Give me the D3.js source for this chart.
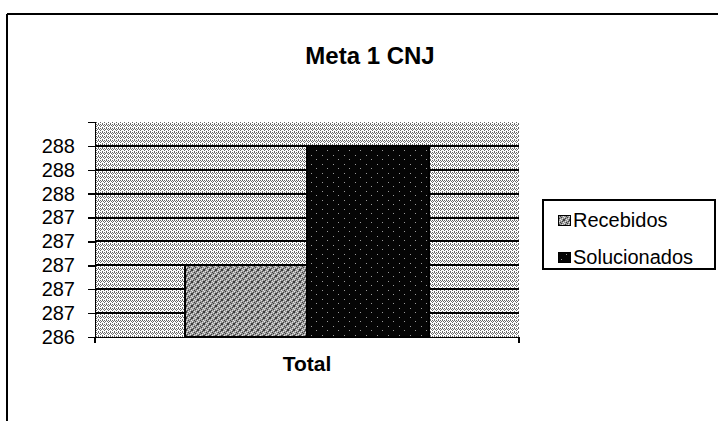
<!DOCTYPE html>
<html>
<head>
<meta charset="utf-8">
<script src="https://cdn.jsdelivr.net/npm/d3@7"></script>
<style>
  body { margin: 0; background: #fff; }
  text { font-family: "Liberation Sans", Arial, sans-serif; fill: #000; }
</style>
</head>
<body>
<div id="chart"></div>
<script>
// chart data
var categories = ["Total"];
var seriesNames = ["Recebidos", "Solucionados"];
var recebidos = [287];
var solucionados = [288];
var tickValues = [286.4, 286.6, 286.8, 287, 287.2, 287.4, 287.6, 287.8, 288];

var svgWidth = 718, svgHeight = 421;
var plot = { left: 95, right: 519, top: 122, bottom: 337 };

var svg = d3.select("#chart").append("svg")
    .attr("width", svgWidth)
    .attr("height", svgHeight)
    .attr("shape-rendering", "crispEdges");

var defs = svg.append("defs");

// dithered fills, rough imitation of the old print patterns
// dots: [x, y, colour]
function makePattern(id, w, h, base, dots) {
    var p = defs.append("pattern")
        .attr("id", id)
        .attr("patternUnits", "userSpaceOnUse")
        .attr("width", w)
        .attr("height", h);
    p.append("rect").attr("width", w).attr("height", h).attr("fill", base);
    dots.forEach(function(d) {
        p.append("rect").attr("x", d[0]).attr("y", d[1])
            .attr("width", 1).attr("height", 1).attr("fill", d[2]);
    });
}
var g1 = "#6a6a6a";
makePattern("bgFill", 4, 4, "#ffffff",
    [[0, 0, g1], [2, 0, g1], [1, 1, g1], [3, 1, g1], [0, 2, g1], [2, 3, g1]]);
var dk = "#3c3c3c", lt = "#e4e4e4";
makePattern("recFill", 6, 6, "#9a9a9a",
    [[0, 0, dk], [3, 0, lt], [5, 0, dk], [1, 1, lt], [4, 1, dk],
     [2, 2, dk], [5, 2, lt], [0, 3, lt], [3, 3, dk], [1, 4, dk],
     [4, 4, lt], [2, 5, lt], [5, 5, dk], [0, 5, dk]]);
var sp = "#9a9a9a";
makePattern("solFill", 11, 9, "#050505", [[3, 2, sp], [8, 6, sp]]);

// outer frame (top and left edges only visible)
svg.append("line").attr("x1", 7).attr("x2", 718).attr("y1", 14).attr("y2", 14)
    .attr("stroke", "#000").attr("stroke-width", 1.5);
svg.append("line").attr("x1", 7).attr("x2", 7).attr("y1", 14).attr("y2", 421)
    .attr("stroke", "#000").attr("stroke-width", 1.5);

svg.append("text")
    .attr("x", 370).attr("y", 64)
    .attr("text-anchor", "middle")
    .style("font-size", "24px").style("font-weight", "bold")
    .text("Meta 1 CNJ");

var x = d3.scaleBand().domain(categories).range([plot.left, plot.right]).padding(0);
var y = d3.scaleLinear().domain([286.4, 288.2]).range([plot.bottom, plot.top]);

// plot background
svg.append("rect")
    .attr("x", plot.left).attr("y", plot.top)
    .attr("width", plot.right - plot.left).attr("height", plot.bottom - plot.top)
    .attr("fill", "url(#bgFill)");

// gridlines
svg.append("g").selectAll("line")
    .data(tickValues.slice(1))
    .join("line")
    .attr("x1", plot.left).attr("x2", plot.right)
    .attr("y1", function(d) { return Math.round(y(d)); })
    .attr("y2", function(d) { return Math.round(y(d)); })
    .attr("stroke", "#000").attr("stroke-width", 2);

// bars
var groupWidth = x.bandwidth() * 0.575;
var barWidth = groupWidth / 2;
var fills = ["url(#recFill)", "url(#solFill)"];
var series = [recebidos, solucionados];

categories.forEach(function(cat, i) {
    var start = x(cat) + (x.bandwidth() - groupWidth) / 2;
    series.forEach(function(vals, s) {
        svg.append("rect")
            .attr("x", start + s * barWidth)
            .attr("y", y(vals[i]))
            .attr("width", barWidth)
            .attr("height", plot.bottom - y(vals[i]))
            .attr("fill", fills[s])
            .attr("stroke", "#000").attr("stroke-width", 1.5);
    });
});

// y axis
var yAxis = d3.axisLeft(y)
    .tickValues(tickValues)
    .tickSize(7)
    .tickPadding(13)
    .tickFormat(d3.format(".0f"));
var yg = svg.append("g")
    .attr("transform", `translate(${plot.left},0)`)
    .call(yAxis);
yg.select(".domain").attr("stroke", "#000").attr("stroke-width", 1.5);
yg.selectAll(".tick line").attr("stroke", "#000").attr("stroke-width", 1.5);
yg.selectAll("text")
    .style("font-family", "Liberation Sans, Arial, sans-serif")
    .style("font-size", "20px").attr("fill", "#000");

// x axis
var xAxis = d3.axisBottom(x).tickSize(0).tickPadding(19);
var xg = svg.append("g")
    .attr("transform", `translate(0,${plot.bottom})`)
    .call(xAxis);
xg.select(".domain").attr("stroke", "#000").attr("stroke-width", 1.5);
xg.selectAll("text")
    .style("font-family", "Liberation Sans, Arial, sans-serif")
    .style("font-size", "21px").style("font-weight", "bold").attr("fill", "#000");
[plot.left, plot.right].forEach(function(px) {
    xg.append("line").attr("x1", px).attr("x2", px).attr("y1", 0).attr("y2", 6)
        .attr("stroke", "#000").attr("stroke-width", 1.5);
});

// legend
var legend = svg.append("g").attr("transform", "translate(543,200)");
legend.append("rect")
    .attr("width", 172).attr("height", 69)
    .attr("fill", "#fff").attr("stroke", "#000").attr("stroke-width", 1.2);
seriesNames.forEach(function(name, i) {
    var row = legend.append("g").attr("transform", `translate(15,${20 + i * 37})`);
    row.append("rect")
        .attr("x", 0).attr("y", -5).attr("width", 12).attr("height", 10)
        .attr("fill", fills[i]).attr("stroke", "#000").attr("stroke-width", 1);
    row.append("text")
        .attr("x", 15).attr("y", 0).attr("dy", "0.35em")
        .style("font-size", "20px")
        .text(name);
});
</script>
</body>
</html>
